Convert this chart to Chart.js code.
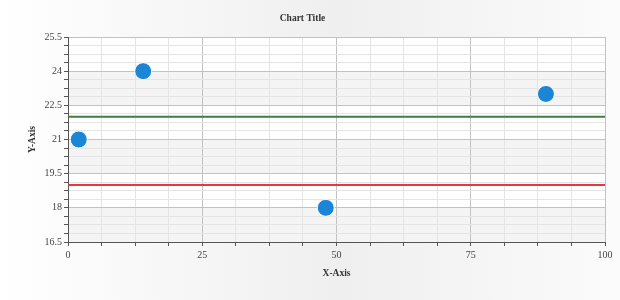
<!DOCTYPE html>
<html>
<head>
<meta charset="utf-8">
<script src="https://cdn.jsdelivr.net/npm/chart.js@4.4.1/dist/chart.umd.min.js"></script>
<style>
  html, body { margin: 0; padding: 0; background: #fff; }
  #wrap { width: 620px; height: 300px; position: relative; }
</style>
</head>
<body>
<div id="wrap"><canvas id="c" width="620" height="300"></canvas></div>
<script>
// ---- Data ----
const pointX = [2, 14, 48, 89];
const pointY = [21, 24, 18, 23];
const greenLineY = 22;
const redLineY = 19;
const lineXRange = [0, 100];
const xMajorTicks = [0, 25, 50, 75, 100];
const yMajorTicks = [16.5, 18, 19.5, 21, 22.5, 24, 25.5];

const FONT = "'Liberation Serif', 'DejaVu Serif', serif";

const scatterData = pointX.map((x, i) => ({ x: x, y: pointY[i] }));
const greenData = lineXRange.map(x => ({ x: x, y: greenLineY }));
const redData = lineXRange.map(x => ({ x: x, y: redLineY }));

const isMajorX = v => xMajorTicks.some(t => Math.abs(t - v) < 1e-6);
const isMajorY = v => yMajorTicks.some(t => Math.abs(t - v) < 1e-6);

const bgPlugin = {
  id: 'bg',
  beforeDraw(chart) {
    const { ctx, width, height, chartArea, scales } = chart;
    ctx.save();
    const g = ctx.createLinearGradient(0, 0, width, 0);
    g.addColorStop(0, '#ffffff');
    g.addColorStop(0.55, '#efefef');
    g.addColorStop(1, '#fbfbfb');
    ctx.fillStyle = g;
    ctx.fillRect(0, 0, width, height);
    ctx.fillStyle = '#ffffff';
    ctx.fillRect(chartArea.left, chartArea.top, chartArea.right - chartArea.left, chartArea.bottom - chartArea.top);
    const y = scales.y;
    ctx.fillStyle = '#f4f4f4';
    for (let i = 0; i < yMajorTicks.length - 1; i += 2) {
      const y0 = y.getPixelForValue(yMajorTicks[i]);
      const y1 = y.getPixelForValue(yMajorTicks[i + 1]);
      ctx.fillRect(chartArea.left, y1, chartArea.right - chartArea.left, y0 - y1);
    }
    ctx.restore();
  }
};

new Chart(document.getElementById('c'), {
  type: 'scatter',
  data: {
    datasets: [
      {
        type: 'line', data: greenData, borderColor: '#3d7f3d', borderWidth: 2,
        pointRadius: 0, fill: false, order: 2
      },
      {
        type: 'line', data: redData, borderColor: '#e8383d', borderWidth: 2,
        pointRadius: 0, fill: false, order: 2
      },
      {
        data: scatterData, backgroundColor: '#1c86d6', borderColor: '#ffffff',
        borderWidth: 1, pointRadius: 8.5, pointHoverRadius: 8.5, order: 1
      }
    ]
  },
  plugins: [bgPlugin],
  options: {
    responsive: false,
    animation: false,
    layout: { padding: { left: 0, right: 15, top: 0, bottom: 0 } },
    plugins: {
      legend: { display: false },
      tooltip: { enabled: false },
      title: {
        display: true, text: 'Chart Title', color: '#333',
        font: { family: FONT, size: 9.5, weight: 'bold', lineHeight: 1.2 },
        padding: { top: 12.5, bottom: 13.1 }
      }
    },
    scales: {
      x: {
        type: 'linear', min: 0, max: 100,
        afterFit(s) { s.height = 58; },
        border: { display: true, color: '#555', width: 1 },
        grid: {
          color: ctx => isMajorX(ctx.tick.value) ? '#c2c2c2' : '#e4e4e4',
          tickColor: '#555', tickLength: 4, drawTicks: true
        },
        ticks: {
          stepSize: 6.25, autoSkip: false, maxRotation: 0, padding: 3,
          color: '#444', font: { family: FONT, size: 10 },
          callback: v => isMajorX(v) ? String(v) : ''
        },
        title: {
          display: true, text: 'X-Axis', color: '#333',
          font: { family: FONT, size: 9.5, weight: 'bold', lineHeight: 1.2 },
          padding: { top: 0, bottom: 21 }
        }
      },
      y: {
        type: 'linear', min: 16.5, max: 25.5,
        afterFit(s) { s.width = 68; },
        border: { display: true, color: '#555', width: 1 },
        grid: {
          color: ctx => isMajorY(ctx.tick.value) ? '#c2c2c2' : '#e4e4e4',
          tickColor: '#555', tickLength: 4, drawTicks: true
        },
        ticks: {
          stepSize: 0.375, autoSkip: false, padding: 2,
          color: '#444', font: { family: FONT, size: 10 },
          callback: v => isMajorY(v) ? String(v) : ''
        },
        title: {
          display: true, text: 'Y-Axis', color: '#333',
          font: { family: FONT, size: 9.5, weight: 'bold', lineHeight: 1.2 },
          padding: { top: 26.5, bottom: 0 }
        }
      }
    }
  }
});
</script>
</body>
</html>
